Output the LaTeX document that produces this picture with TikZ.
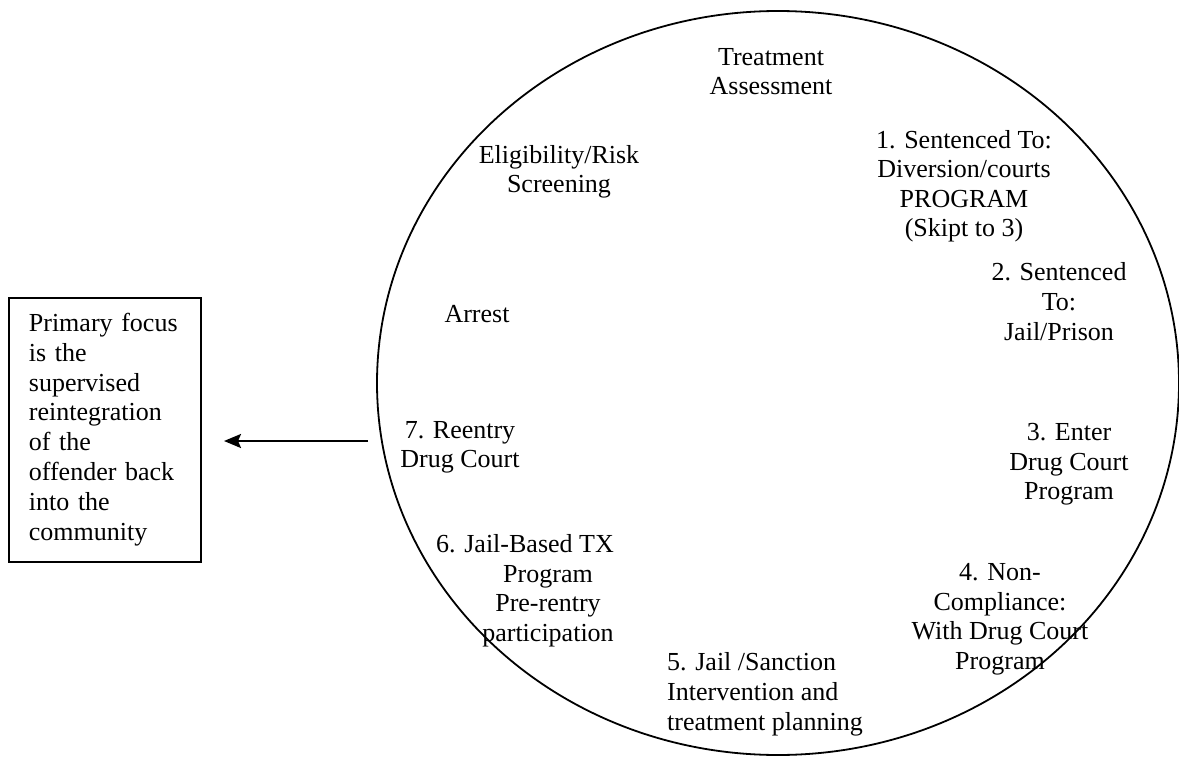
\documentclass[tikz,border=0pt]{standalone}
\usepackage{fontspec}
\setmainfont{Liberation Serif}
\usetikzlibrary{shapes.geometric,arrows.meta}
\begin{document}
\begin{tikzpicture}[x=1pt,y=-1pt,
  lbl/.style={inner sep=0pt, align=center, font=\fontsize{26pt}{29.6pt}\selectfont,
    execute at begin node=\strut, execute at end node=\strut},
  lbll/.style={lbl, align=left},
  ring/.style={draw, ellipse, line width=1.8pt, inner sep=0pt},
  focusbox/.style={draw, line width=1.8pt, inner xsep=20pt, inner ysep=0pt, align=left,
    text width=152pt, minimum width=192pt, minimum height=264pt, anchor=north west,
    font=\fontsize{26pt}{29.8pt}\selectfont},
  flow/.style={line width=2.4pt, -{Stealth[length=17pt,width=14pt,inset=3pt]}}]
\useasboundingbox (0,0) rectangle (1179,760);
\node[ring, minimum width=802pt, minimum height=744pt] (cycle) at (778,383) {};
\node[focusbox] (focus) at (8,297) {\strut Primary focus\\ is the\\ supervised\\ reintegration\\ of the\\ offender back\\ into the\\ community\strut};
\node[lbl] (treat) at (771,76) {Treatment\\Assessment};
\node[lbl] (elig) at (559,173.5) {Eligibility/Risk\\Screening};
\node[lbl] (s1) at (964,188) {1. Sentenced To:\\Diversion/courts\\PROGRAM\\(Skipt to 3)};
\node[lbl] (s2) at (1059,306) {2. Sentenced\\To:\\Jail/Prison};
\node[lbl] (arrest) at (477,317) {Arrest};
\node[lbl] (s3) at (1069,466) {3. Enter\\Drug Court\\Program};
\node[lbl] (s4) at (1000,621) {4. Non-\\Compliance:\\With Drug Court\\Program};
\node[lbll, anchor=west] (s5) at (667,696) {5. Jail /Sanction\\Intervention and\\treatment planning};
\node[lbl] (s6) at (548,592.5) {\hspace*{-46pt}6. Jail-Based TX\\Program\\Pre-rentry\\participation};
\node[lbl] (s7) at (460,449) {7. Reentry\\Drug Court};
\coordinate (arrfrom) at (368,441);
\coordinate (arrto) at (224,441);
\draw[flow] (arrfrom) -- (arrto);
\end{tikzpicture}
\end{document}
